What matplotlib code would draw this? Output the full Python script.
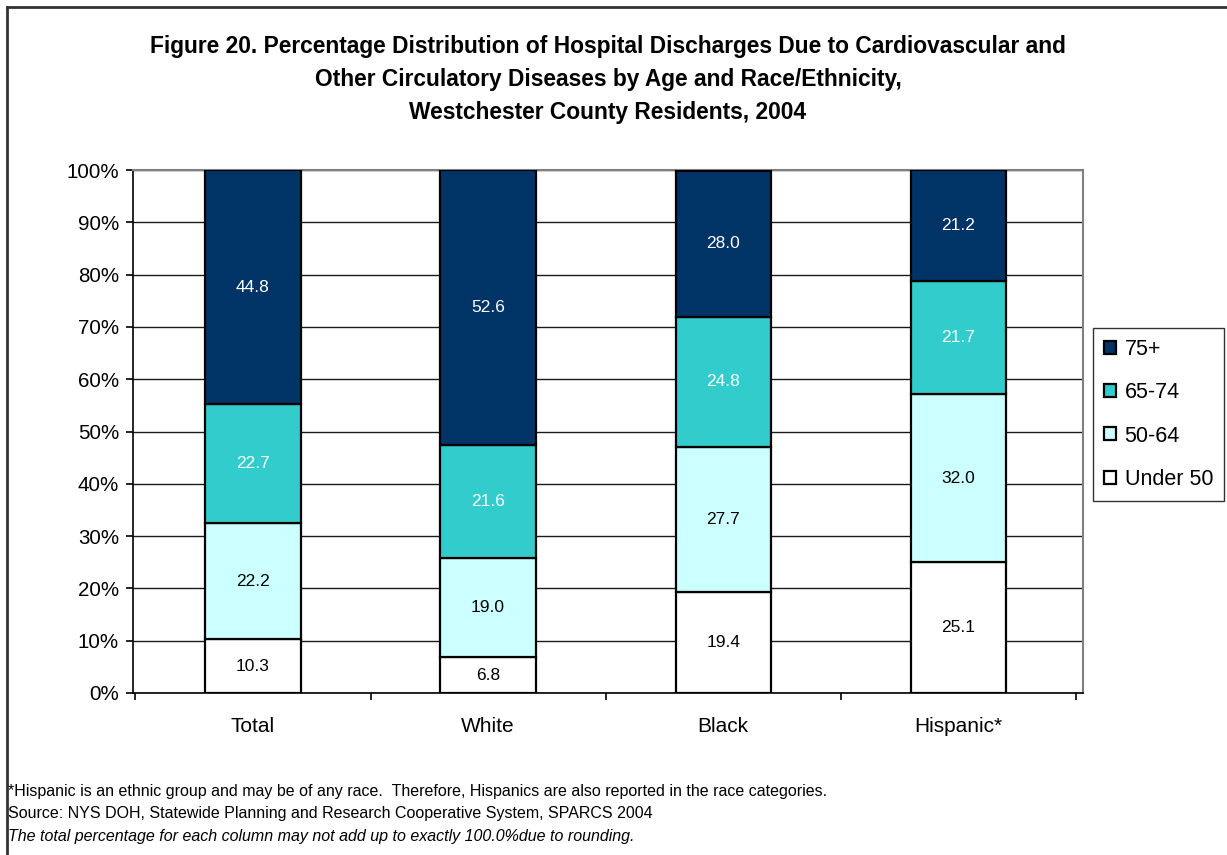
import numpy as np
import matplotlib
matplotlib.use('Agg')
import matplotlib.pyplot as plt
from matplotlib.lines import Line2D

plt.rcParams['font.family'] = ['Liberation Sans', 'DejaVu Sans']

categories = ['Total', 'White', 'Black', 'Hispanic*']
groups = ['Under 50', '50-64', '65-74', '75+']
under50 = [10.3, 6.8, 19.4, 25.1]
age50_64 = [22.2, 19.0, 27.7, 32.0]
age65_74 = [22.7, 21.6, 24.8, 21.7]
age75 = [44.8, 52.6, 28.0, 21.2]

colors = ['#FFFFFF', '#CCFFFF', '#33CCCC', '#003366']
text_colors = ['black', 'black', 'white', 'white']

fig = plt.figure(figsize=(12.27, 8.55), dpi=100)
ax = fig.add_axes([133 / 1227, 1 - 693 / 855, 950 / 1227, 523 / 855])

x = np.arange(len(categories))
series = [under50, age50_64, age65_74, age75]
bottom = np.zeros(len(categories))
for vals, col, tcol, name in zip(series, colors, text_colors, groups):
    vals = np.array(vals)
    ax.bar(x, vals, 0.405, bottom=bottom, color=col, edgecolor='black',
           linewidth=1.6, zorder=3, label=name)
    for xi, b, v in zip(x, bottom, vals):
        ax.text(xi, b + v / 2, '%.1f' % v, ha='center', va='center',
                fontsize=12.5, color=tcol, zorder=4)
    bottom = bottom + vals

ax.set_xlim(-0.51, 3.53)
ax.set_ylim(0, 100)
ax.set_yticks(np.arange(0, 101, 10))
ax.set_yticklabels(['%d%%' % v for v in range(0, 101, 10)], fontsize=14.8)
ax.yaxis.grid(True, color='#1a1a1a', linewidth=1.0, zorder=0)
ax.set_xticks(x)
ax.set_xticklabels(categories, fontsize=15)
ax.tick_params(axis='x', length=0, pad=17)
ax.set_xticks(np.arange(-0.5, 3.6, 1), minor=True)
ax.tick_params(axis='x', which='minor', length=5, direction='out', width=1.2)
ax.tick_params(axis='y', length=5, direction='out', width=1.2, pad=5)
for s in ['top', 'right']:
    ax.spines[s].set_color('#808080')
    ax.spines[s].set_linewidth(1.5)
for s in ['left', 'bottom']:
    ax.spines[s].set_color('black')
    ax.spines[s].set_linewidth(1.2)

h, l = ax.get_legend_handles_labels()
leg = fig.legend(h[::-1], l[::-1], loc='upper left',
                 bbox_to_anchor=(1093 / 1227, 1 - 328 / 855),
                 fontsize=15.5, frameon=True, fancybox=False, edgecolor='black',
                 handlelength=0.55, handleheight=0.55, handletextpad=0.42,
                 labelspacing=1.04, borderpad=0.5, borderaxespad=0)
leg.get_frame().set_linewidth(1.0)

fig.text(608 / 1227, 1 - 79.5 / 855,
         'Figure 20. Percentage Distribution of Hospital Discharges Due to Cardiovascular and\n'
         'Other Circulatory Diseases by Age and Race/Ethnicity,\n'
         'Westchester County Residents, 2004',
         ha='center', va='center', fontsize=16.4, fontweight='bold',
         linespacing=1.55)

fig.text(8 / 1227, 1 - 791 / 855,
         '*Hispanic is an ethnic group and may be of any race.  Therefore, '
         'Hispanics are also reported in the race categories.',
         fontsize=11.5, va='center')
fig.text(8 / 1227, 1 - 813 / 855,
         'Source: NYS DOH, Statewide Planning and Research Cooperative System, SPARCS 2004',
         fontsize=11.5, va='center')
fig.text(8 / 1227, 1 - 836 / 855,
         'The total percentage for each column may not add up to exactly 100.0%due to rounding.',
         fontsize=11.5, va='center', style='italic')

fig.add_artist(Line2D([7 / 1227, 7 / 1227], [0, 1 - 7 / 855], color='#333333',
                      linewidth=2, transform=fig.transFigure))
fig.add_artist(Line2D([7 / 1227, 1], [1 - 7 / 855, 1 - 7 / 855], color='#333333',
                      linewidth=2, transform=fig.transFigure))

fig.savefig('out.png', dpi=100, facecolor='white')
